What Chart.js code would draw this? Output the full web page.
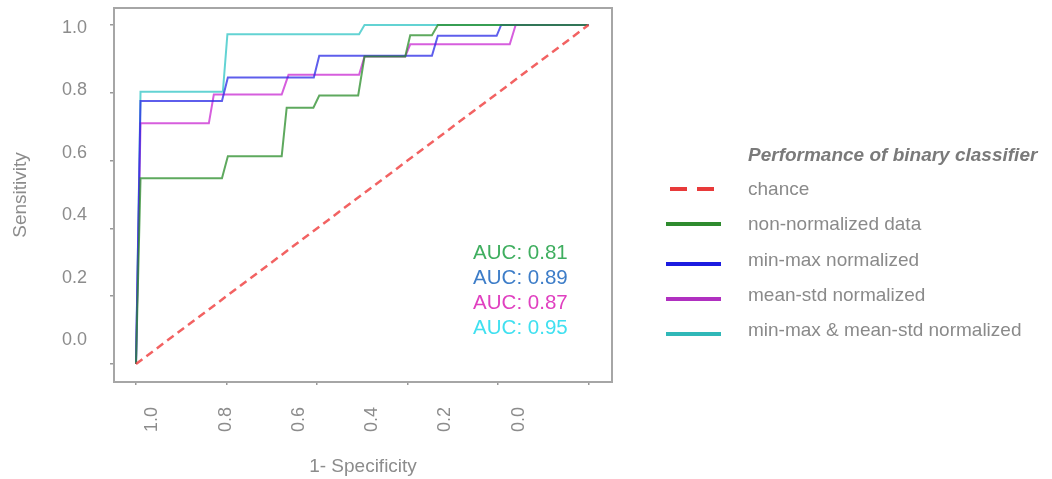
<!DOCTYPE html>
<html>
<head>
<meta charset="utf-8">
<script src="https://cdn.jsdelivr.net/npm/chart.js@4.4.1/dist/chart.umd.min.js"></script>
<style>
  html, body { margin: 0; padding: 0; background: #fff; }
  #wrap { position: relative; width: 1052px; height: 479px; font-family: 'Liberation Sans', Arial, sans-serif; }
  #roc { position: absolute; left: 0; top: 0; }
  .lg-title { position: absolute; left: 748px; top: 144px; font-size: 19px; line-height: 22px; font-weight: bold; font-style: italic; color: #7a7a7a; white-space: nowrap; }
  .lg-text { position: absolute; left: 748px; font-size: 19px; line-height: 22px; color: #8a8a8a; white-space: nowrap; }
  .lg-line { position: absolute; height: 4px; }
</style>
</head>
<body>
<div id="wrap">
  <canvas id="roc" width="1052" height="479"></canvas>
  <div id="legend"></div>
</div>
<script>
// ROC data: specificity (x, reversed axis) and sensitivity (y)
const seriesNames = ['chance', 'non-normalized data', 'min-max normalized', 'mean-std normalized', 'min-max & mean-std normalized'];
const seriesColors = ['rgba(240,70,70,0.85)', 'rgba(40,140,40,0.75)', 'rgba(40,40,230,0.75)', 'rgba(200,40,210,0.75)', 'rgba(60,200,200,0.8)'];
const legendColors = ['#e83a3a', '#2e8b2e', '#1c1ce0', '#b030c0', '#30b8b8'];

const chanceSpec = [1, 0];
const chanceSens = [0, 1];

const rawSpec = [1, 0.99, 0.81, 0.797, 0.678, 0.667, 0.608, 0.595, 0.509, 0.495, 0.405, 0.394, 0.346, 0.333, 0];
const rawSens = [0, 0.548, 0.548, 0.613, 0.613, 0.756, 0.756, 0.792, 0.792, 0.907, 0.907, 0.97, 0.97, 1, 1];

const minmaxSpec = [1, 0.99, 0.81, 0.797, 0.607, 0.595, 0.346, 0.333, 0.203, 0.193, 0];
const minmaxSens = [0, 0.776, 0.776, 0.845, 0.845, 0.909, 0.909, 0.968, 0.968, 1, 1];

const meanstdSpec = [1, 0.99, 0.839, 0.828, 0.678, 0.663, 0.507, 0.495, 0.405, 0.394, 0.174, 0.161, 0];
const meanstdSens = [0, 0.71, 0.71, 0.795, 0.795, 0.853, 0.853, 0.907, 0.907, 0.943, 0.943, 1, 1];

const bothSpec = [1, 0.99, 0.808, 0.798, 0.507, 0.495, 0];
const bothSens = [0, 0.803, 0.803, 0.973, 0.973, 1, 1];

const aucValues = [0.81, 0.89, 0.87, 0.95];
const aucColors = ['#3fae5f', '#3d7dc8', '#e040c0', '#40e0f0'];

const xTickValues = [1, 0.8, 0.6, 0.4, 0.2, 0];
const yTickValues = [0, 0.2, 0.4, 0.6, 0.8, 1];

const pts = (xs, ys) => xs.map((x, i) => ({ x: x, y: ys[i] }));
const allSpec = [chanceSpec, rawSpec, minmaxSpec, meanstdSpec, bothSpec];
const allSens = [chanceSens, rawSens, minmaxSens, meanstdSens, bothSens];

const tickGray = '#8c8c8c';
const font = "'Liberation Sans', Arial, sans-serif";

const datasets = seriesNames.map((name, i) => ({
    label: name,
    data: pts(allSpec[i], allSens[i]),
    borderColor: seriesColors[i],
    borderWidth: i === 0 ? 2.5 : 2,
    borderDash: i === 0 ? [8, 5] : [],
    pointRadius: 0,
    tension: 0,
    fill: false
}));

const setTicks = values => scale => { scale.ticks = values.map(v => ({ value: v })); };

// plot frame around the chart area
const framePlugin = {
    id: 'frame',
    beforeDatasetsDraw(chart) {
        const { ctx, chartArea: a } = chart;
        ctx.save();
        ctx.strokeStyle = '#a6a6a6';
        ctx.lineWidth = 2;
        ctx.strokeRect(a.left, a.top, a.right - a.left, a.bottom - a.top);
        ctx.restore();
    }
};

// AUC annotations inside the plot
const aucPlugin = {
    id: 'auc',
    afterDatasetsDraw(chart) {
        const { ctx, scales } = chart;
        const x0 = scales.x.getPixelForValue(0.255);
        const y0 = scales.y.getPixelForValue(0.327);
        ctx.save();
        ctx.font = '20.5px ' + font;
        ctx.textBaseline = 'middle';
        ctx.textAlign = 'left';
        aucValues.forEach((v, i) => {
            ctx.fillStyle = aucColors[i];
            ctx.fillText('AUC: ' + v.toFixed(2), x0, y0 + i * 25);
        });
        ctx.restore();
    }
};

new Chart(document.getElementById('roc'), {
    type: 'line',
    data: { datasets: datasets },
    options: {
        responsive: false,
        animation: false,
        layout: { padding: { top: 8, right: 440, bottom: 0, left: 0 } },
        plugins: { legend: { display: false }, tooltip: { enabled: false } },
        scales: {
            x: {
                type: 'linear', position: 'bottom', weight: 0, reverse: true,
                min: -0.0519, max: 1.0486,
                afterBuildTicks: setTicks(xTickValues),
                afterFit: s => { s.height = 3; },
                border: { display: false },
                grid: { drawOnChartArea: false, drawTicks: true, tickLength: 3, color: '#999', lineWidth: 1.5 },
                ticks: { display: false }
            },
            x2: {
                type: 'linear', position: 'bottom', weight: 1, reverse: true,
                min: -0.2543, max: 1.1045,
                afterBuildTicks: setTicks(xTickValues),
                afterFit: s => { s.height = 94; },
                border: { display: false },
                grid: { display: false, drawTicks: false },
                ticks: {
                    autoSkip: false, minRotation: 90, maxRotation: 90, padding: 22,
                    color: tickGray, font: { family: font, size: 18 },
                    callback: v => Number(v).toFixed(1)
                },
                title: { display: true, text: '1- Specificity', color: tickGray, font: { family: font, size: 19 }, padding: { top: 0, bottom: 1 } }
            },
            y: {
                type: 'linear', position: 'left', weight: 0,
                min: -0.0531, max: 1.0501,
                afterBuildTicks: setTicks(yTickValues),
                afterFit: s => { s.width = 27; },
                border: { display: false },
                grid: { drawOnChartArea: false, drawTicks: true, tickLength: 4, color: '#999', lineWidth: 1.5 },
                ticks: { display: false }
            },
            y2: {
                type: 'linear', position: 'left', weight: 1,
                min: -0.1346, max: 1.0641,
                afterBuildTicks: setTicks(yTickValues),
                afterFit: s => { s.width = 87; },
                border: { display: false },
                grid: { display: false, drawTicks: false },
                ticks: {
                    padding: 0, color: tickGray, font: { family: font, size: 18, lineHeight: 0.8 },
                    callback: v => Number(v).toFixed(1)
                },
                title: { display: true, text: 'Sensitivity', color: tickGray, font: { family: font, size: 19 }, padding: { top: 9, bottom: 0 } }
            }
        }
    },
    plugins: [framePlugin, aucPlugin]
});

// HTML legend built from the series
const legend = document.getElementById('legend');
const title = document.createElement('div');
title.className = 'lg-title';
title.textContent = 'Performance of binary classifier';
legend.appendChild(title);

seriesNames.forEach((name, i) => {
    const cy = 189 + i * 35.3;
    const line = document.createElement('div');
    line.className = 'lg-line';
    line.style.top = (cy - 2 + (i > 1 ? 4 : 0)) + 'px';
    if (i === 0) {
        line.style.left = '670px';
        line.style.width = '45px';
        line.style.background = 'repeating-linear-gradient(to right, ' + legendColors[0] + ' 0 17px, transparent 17px 27px)';
    } else {
        line.style.left = '666px';
        line.style.width = '55px';
        line.style.background = legendColors[i];
    }
    legend.appendChild(line);

    const text = document.createElement('div');
    text.className = 'lg-text';
    text.style.top = (cy - 11) + 'px';
    text.textContent = name;
    legend.appendChild(text);
});
</script>
</body>
</html>
